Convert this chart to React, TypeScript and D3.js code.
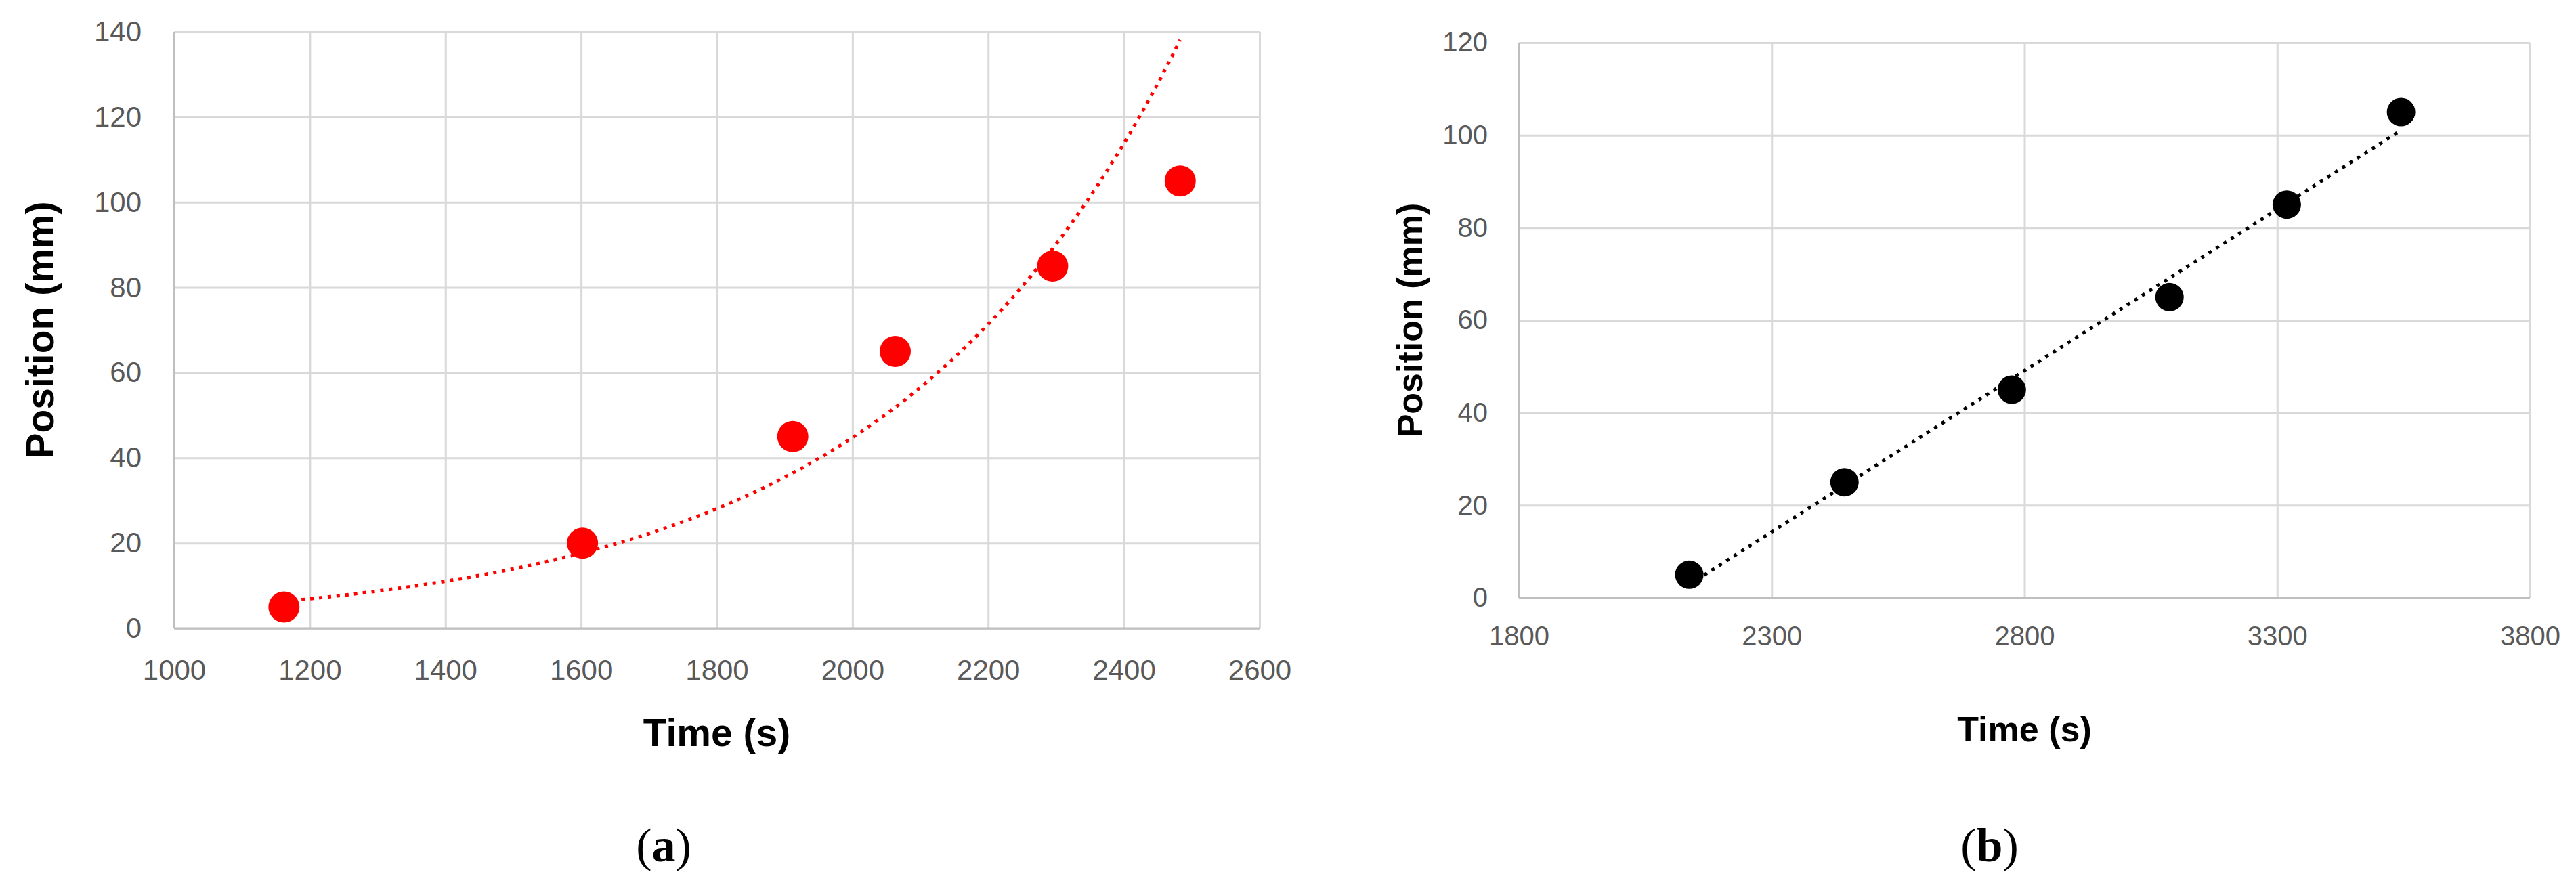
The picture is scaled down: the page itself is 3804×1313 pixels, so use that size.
import React, { useEffect, useRef } from "react";
import * as d3 from "d3";

// panel (a): exponential growth
const timeA = [1162, 1602, 1912, 2063, 2295, 2483];
const posA = [5, 20, 45, 65, 85, 105];
const xTicksA = [1000, 1200, 1400, 1600, 1800, 2000, 2200, 2400, 2600];
const yTicksA = [0, 20, 40, 60, 80, 100, 120, 140];

// panel (b): linear
const timeB = [2137, 2444, 2775, 3087, 3319, 3545];
const posB = [5, 25, 45, 65, 85, 105];
const xTicksB = [1800, 2300, 2800, 3300, 3800];
const yTicksB = [0, 20, 40, 60, 80, 100, 120];

const W = 3804;
const H = 1313;
const SANS = "'Liberation Sans', Arial, Helvetica, sans-serif";
const SERIF = "'Liberation Serif', 'Times New Roman', serif";

type Fit = "exp" | "lin";

interface PanelCfg {
  t: number[];
  p: number[];
  xTicks: number[];
  yTicks: number[];
  left: number;
  right: number;
  top: number;
  bottom: number;
  color: string;
  fit: Fit;
  r: number;
  tickFont: number;
  xPad: number;
  yPad: number;
  titleFont: number;
  yTitleX: number;
  xTitleY: number;
  tag: string;
  tagX: number;
}

// least squares line through (xs, ys)
const linFit = (xs: number[], ys: number[]) => {
  const mx = d3.mean(xs) as number;
  const my = d3.mean(ys) as number;
  let sxy = 0;
  let sxx = 0;
  xs.forEach((v, i) => {
    sxy += (v - mx) * (ys[i] - my);
    sxx += (v - mx) * (v - mx);
  });
  const b = sxy / sxx;
  return { a: my - b * mx, b };
};

const drawPanel = (svg: d3.Selection<SVGSVGElement, unknown, null, undefined>, cfg: PanelCfg) => {
  const x = d3.scaleLinear().domain(d3.extent(cfg.xTicks) as [number, number]).range([cfg.left, cfg.right]);
  const y = d3.scaleLinear().domain(d3.extent(cfg.yTicks) as [number, number]).range([cfg.bottom, cfg.top]);
  const w = cfg.right - cfg.left;
  const h = cfg.bottom - cfg.top;

  const g = svg.append("g");

  // grid
  g.append("g")
    .attr("transform", `translate(0,${cfg.bottom})`)
    .call(d3.axisBottom(x).tickValues(cfg.xTicks).tickSize(-h).tickFormat(() => ""))
    .call((s) => s.select(".domain").remove())
    .selectAll("line")
    .attr("stroke", "#d9d9d9")
    .attr("stroke-width", 3);

  g.append("g")
    .attr("transform", `translate(${cfg.left},0)`)
    .call(d3.axisLeft(y).tickValues(cfg.yTicks).tickSize(-w).tickFormat(() => ""))
    .call((s) => s.select(".domain").remove())
    .selectAll("line")
    .attr("stroke", "#d9d9d9")
    .attr("stroke-width", 3);

  // axis lines
  g.append("line")
    .attr("x1", cfg.left).attr("x2", cfg.left)
    .attr("y1", cfg.top).attr("y2", cfg.bottom)
    .attr("stroke", "#bfbfbf").attr("stroke-width", 3);
  g.append("line")
    .attr("x1", cfg.left).attr("x2", cfg.right)
    .attr("y1", cfg.bottom).attr("y2", cfg.bottom)
    .attr("stroke", "#bfbfbf").attr("stroke-width", 3);

  // tick labels
  const xLab = g.append("g")
    .attr("transform", `translate(0,${cfg.bottom})`)
    .call(d3.axisBottom(x).tickValues(cfg.xTicks).tickSize(0).tickPadding(cfg.xPad).tickFormat(d3.format("d")));
  const yLab = g.append("g")
    .attr("transform", `translate(${cfg.left},0)`)
    .call(d3.axisLeft(y).tickValues(cfg.yTicks).tickSize(0).tickPadding(cfg.yPad).tickFormat(d3.format("d")));
  [xLab, yLab].forEach((s) => {
    s.select(".domain").remove();
    s.attr("font-size", cfg.tickFont).attr("font-family", SANS);
    s.selectAll("text").attr("fill", "#595959");
  });

  // trendline
  const t0 = d3.min(cfg.t) as number;
  const t1 = d3.max(cfg.t) as number;
  let pts: [number, number][];
  if (cfg.fit === "exp") {
    const f = linFit(cfg.t, cfg.p.map(Math.log));
    pts = d3.range(0, 121).map((i) => {
      const tt = t0 + ((t1 - t0) * i) / 120;
      return [tt, Math.exp(f.a + f.b * tt)];
    });
  } else {
    const f = linFit(cfg.t, cfg.p);
    pts = [t0, t1].map((tt) => [tt, f.a + f.b * tt]);
  }

  // markers
  g.selectAll("circle.pt")
    .data(cfg.t.map((tt, i) => [tt, cfg.p[i]]))
    .enter()
    .append("circle")
    .attr("class", "pt")
    .attr("cx", (d) => x(d[0]))
    .attr("cy", (d) => y(d[1]))
    .attr("r", cfg.r)
    .attr("fill", cfg.color);

  g.append("path")
    .datum(pts)
    .attr("d", d3.line<[number, number]>().x((d) => x(d[0])).y((d) => y(d[1])))
    .attr("fill", "none")
    .attr("stroke", cfg.color)
    .attr("stroke-width", 5)
    .attr("stroke-dasharray", "5 8");

  // axis titles
  const cx = (cfg.left + cfg.right) / 2;
  const cy = (cfg.top + cfg.bottom) / 2;
  g.append("text")
    .attr("transform", `translate(${cfg.yTitleX},${cy}) rotate(-90)`)
    .attr("text-anchor", "middle")
    .attr("dy", "0.34em")
    .attr("font-family", SANS)
    .attr("font-weight", "bold")
    .attr("font-size", cfg.titleFont)
    .attr("fill", "#000")
    .text("Position (mm)");
  g.append("text")
    .attr("x", cx)
    .attr("y", cfg.xTitleY)
    .attr("text-anchor", "middle")
    .attr("font-family", SANS)
    .attr("font-weight", "bold")
    .attr("font-size", cfg.titleFont)
    .attr("fill", "#000")
    .text("Time (s)");

  // sub-figure tag
  const tag = g.append("text")
    .attr("x", cfg.tagX)
    .attr("y", 1272)
    .attr("text-anchor", "middle")
    .attr("font-family", SERIF)
    .attr("font-size", 70)
    .attr("fill", "#000");
  tag.append("tspan").text("(");
  tag.append("tspan").attr("font-weight", "bold").text(cfg.tag);
  tag.append("tspan").text(")");
};

const App = () => {
  const ref = useRef<SVGSVGElement>(null);

  useEffect(() => {
    if (!ref.current) return;
    const svg = d3.select(ref.current);
    svg.selectAll("*").remove();

    drawPanel(svg, {
      t: timeA, p: posA, xTicks: xTicksA, yTicks: yTicksA,
      left: 257, right: 1860, top: 47, bottom: 928,
      color: "#ff0000", fit: "exp", r: 23,
      tickFont: 42, xPad: 46, yPad: 48,
      titleFont: 57, yTitleX: 60, xTitleY: 1102,
      tag: "a", tagX: 980,
    });

    drawPanel(svg, {
      t: timeB, p: posB, xTicks: xTicksB, yTicks: yTicksB,
      left: 2243, right: 3736, top: 63, bottom: 883,
      color: "#000000", fit: "lin", r: 21,
      tickFont: 40, xPad: 42, yPad: 46,
      titleFont: 52, yTitleX: 2082, xTitleY: 1095,
      tag: "b", tagX: 2938,
    });
  }, []);

  return (
    <svg
      ref={ref}
      width={W}
      height={H}
      style={{ position: "absolute", left: 0, top: 0, background: "#fff" }}
    />
  );
};

export default App;
